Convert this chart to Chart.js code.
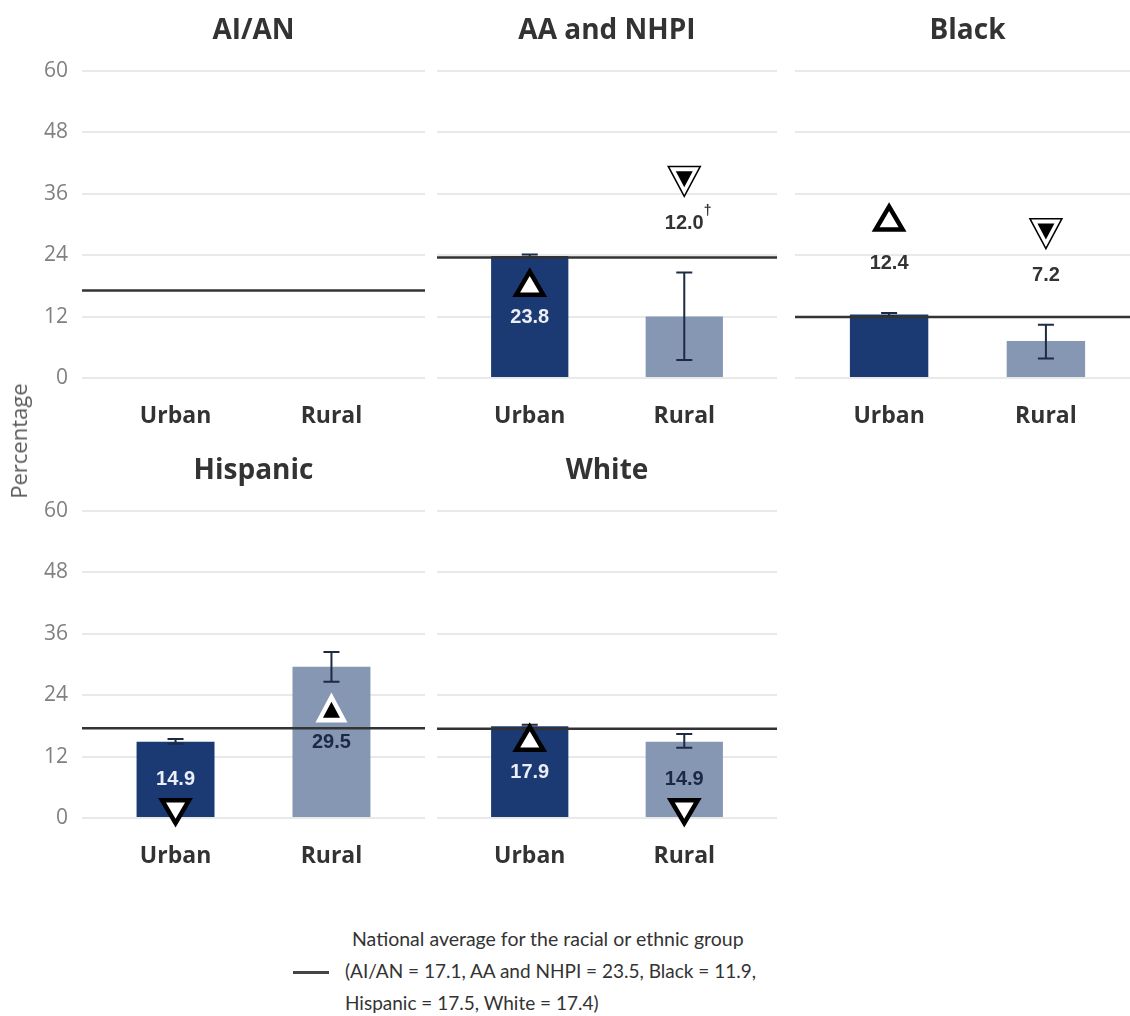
<!DOCTYPE html>
<html>
<head>
<meta charset="utf-8">
<script src="https://cdn.jsdelivr.net/npm/chart.js@4.4.1/dist/chart.umd.min.js"></script>
<style>
  html, body { margin: 0; padding: 0; background: #fff; }
  body { width: 1130px; height: 1016px; overflow: hidden; position: relative; }
  canvas { position: absolute; }
  #ytitle {
    position: absolute; left: 18px; top: 441px; width: 0; height: 0;
  }
  #ytitle span {
    position: absolute; transform: translate(-50%, -50%) rotate(-90deg);
    white-space: nowrap; font: 22px "Open Sans", sans-serif; color: #595959;
  }
  #legline { position: absolute; left: 293px; top: 971px; width: 36px; height: 3px; background: #444; }
  #legend {
    position: absolute; left: 345px; top: 923px;
    font: 19px Lato, sans-serif; line-height: 32px; color: #333; white-space: nowrap;
  }
</style>
</head>
<body>
<canvas id="p0" width="425" height="432" style="left:0;top:0"></canvas>
<canvas id="p1" width="340" height="432" style="left:437px;top:0"></canvas>
<canvas id="p2" width="345" height="432" style="left:795px;top:0"></canvas>
<canvas id="p3" width="425" height="432" style="left:0;top:440px"></canvas>
<canvas id="p4" width="340" height="432" style="left:437px;top:440px"></canvas>
<div id="ytitle"><span>Percentage</span></div>
<div id="legline"></div>
<div id="legend">
  <div style="margin-left:7px;font-size:19.5px">National average for the racial or ethnic group</div>
  <div>(AI/AN = 17.1, AA and NHPI = 23.5, Black = 11.9,</div>
  <div>Hispanic = 17.5, White = 17.4)</div>
</div>
<script>
// data
const groups = ['AI/AN', 'AA and NHPI', 'Black', 'Hispanic', 'White'];
const areas = ['Urban', 'Rural'];
const nationalAvg = [17.1, 23.5, 11.9, 17.5, 17.4];

const urbanPct  = [null, 23.8, 12.4, 14.9, 17.9];
const urbanLow  = [null, 23.5, 12.1, 14.5, 17.6];
const urbanHigh = [null, 24.1, 12.7, 15.4, 18.2];

const ruralPct  = [null, 12.0, 7.2, 29.5, 14.9];
const ruralLow  = [null, 3.5, 3.8, 26.6, 13.7];
const ruralHigh = [null, 20.6, 10.4, 32.4, 16.4];

// compared with national average: 'up' higher, 'down' lower; solid = filled marker
const urbanMark = [null, 'up', 'up', 'down', 'up'];
const ruralMark = [null, 'down-solid', 'down-solid', 'up-solid', 'down'];
const ruralNote = ['', '\u2020', '', '', ''];
const urbanNote = ['', '', '', '', ''];

const yTicks = [0, 12, 24, 36, 48, 60];

const urbanColor = '#1b3a73';
const ruralColor = '#8597b3';

function tri(ctx, cx, cy, w, h, up) {
  // centred on the centroid
  ctx.beginPath();
  if (up) {
    ctx.moveTo(cx, cy - 2 * h / 3);
    ctx.lineTo(cx + w / 2, cy + h / 3);
    ctx.lineTo(cx - w / 2, cy + h / 3);
  } else {
    ctx.moveTo(cx, cy + 2 * h / 3);
    ctx.lineTo(cx + w / 2, cy - h / 3);
    ctx.lineTo(cx - w / 2, cy - h / 3);
  }
  ctx.closePath();
}

function drawMark(ctx, cx, cy, kind, inBar) {
  const up = kind.startsWith('up');
  ctx.lineJoin = 'miter';
  if (kind.endsWith('solid')) {
    tri(ctx, cx, cy, 32, 30, up);
    ctx.fillStyle = '#fff';
    ctx.fill();
    if (!inBar) { ctx.strokeStyle = '#000'; ctx.lineWidth = 1.5; ctx.stroke(); }
    tri(ctx, cx, cy, 17, 16, up);
    ctx.fillStyle = '#000';
    ctx.fill();
  } else {
    tri(ctx, cx, cy, 27, 23, up);
    ctx.fillStyle = '#fff';
    ctx.fill();
    ctx.strokeStyle = '#000'; ctx.lineWidth = 4.5;
    ctx.stroke();
  }
}

const overlay = {
  id: 'overlay',
  afterDatasetsDraw(chart, args, opts) {
    const g = opts.group;
    const { ctx, chartArea } = chart;
    const x = chart.scales.x, y = chart.scales.y;
    const pct = [urbanPct[g], ruralPct[g]];
    const lo = [urbanLow[g], ruralLow[g]];
    const hi = [urbanHigh[g], ruralHigh[g]];
    const marks = [urbanMark[g], ruralMark[g]];
    const notes = [urbanNote[g], ruralNote[g]];
    ctx.save();

    // error bars
    ctx.strokeStyle = '#1c2a44';
    ctx.lineWidth = 2;
    pct.forEach((v, i) => {
      if (v == null) return;
      const px = x.getPixelForValue(i + 1);
      const y1 = y.getPixelForValue(lo[i]), y2 = y.getPixelForValue(hi[i]);
      ctx.beginPath();
      ctx.moveTo(px, y1); ctx.lineTo(px, y2);
      ctx.moveTo(px - 8, y1); ctx.lineTo(px + 8, y1);
      ctx.moveTo(px - 8, y2); ctx.lineTo(px + 8, y2);
      ctx.stroke();
    });

    // national average
    const ay = y.getPixelForValue(nationalAvg[g]);
    ctx.strokeStyle = '#333';
    ctx.lineWidth = 2.5;
    ctx.beginPath();
    ctx.moveTo(chartArea.left, ay);
    ctx.lineTo(chartArea.right, ay);
    ctx.stroke();

    // markers and value labels
    pct.forEach((v, i) => {
      if (v == null) return;
      const px = x.getPixelForValue(i + 1);
      const barH = y.getPixelForValue(0) - y.getPixelForValue(v);
      const inBar = barH > 70;
      const up = marks[i].startsWith('up');
      let ly, my, col;
      if (inBar) {
        ly = y.getPixelForValue(v / 2);
        my = up ? ly - 30 : ly + 28;
        col = i === 0 ? '#e9eef7' : '#1b2a44';
      } else {
        ly = y.getPixelForValue(hi[i]) - 49;
        my = up ? ly - 42 : ly - 47;
        col = '#333';
      }
      drawMark(ctx, px, my, marks[i], inBar);
      ctx.font = 'bold 20px "Liberation Sans", Arial, sans-serif';
      ctx.fillStyle = col;
      ctx.textAlign = 'center';
      ctx.textBaseline = 'middle';
      const txt = v.toFixed(1);
      ctx.fillText(txt, px, ly);
      if (notes[i]) {
        const w = ctx.measureText(txt).width;
        ctx.font = 'bold 14px "Liberation Sans", Arial, sans-serif';
        ctx.textAlign = 'left';
        ctx.fillText(notes[i], px + w / 2, ly - 12);
      }
    });
    ctx.restore();
  }
};

function panel(id, g, showY) {
  new Chart(document.getElementById(id), {
    type: 'bar',
    data: {
      datasets: [{
        data: areas.map((a, i) => ({ x: i + 1, y: i === 0 ? urbanPct[g] : ruralPct[g] })),
        backgroundColor: [urbanColor, ruralColor],
        barPercentage: 0.5,
        categoryPercentage: 1
      }]
    },
    options: {
      responsive: false,
      animation: false,
      layout: { padding: 0 },
      plugins: {
        legend: { display: false },
        tooltip: { enabled: false },
        title: {
          display: true,
          text: groups[g],
          fullSize: false,
          color: '#333',
          font: { family: 'Open Sans', weight: 'bold', size: 28 },
          padding: { top: 14, bottom: 23 }
        },
        overlay: { group: g }
      },
      scales: {
        x: {
          type: 'linear',
          min: 0.4,
          max: 2.6,
          offset: false,
          bounds: 'data',
          grid: { display: false, drawTicks: false, offset: false },
          border: { display: false },
          afterBuildTicks: s => { s.ticks = areas.map((a, i) => ({ value: i + 1 })); },
          ticks: {
            callback: v => areas[v - 1],
            color: '#333',
            font: { family: 'Open Sans', weight: 'bold', size: 23 },
            padding: 25,
            maxRotation: 0,
            autoSkip: false
          },
          afterFit: s => { s.height = 54; }
        },
        y: {
          min: 0,
          max: 60,
          afterBuildTicks: s => { s.ticks = yTicks.map(v => ({ value: v })); },
          grid: { color: '#e9e9e9', lineWidth: 2, drawTicks: false },
          border: { display: false },
          ticks: {
            display: showY,
            color: '#808080',
            font: { family: 'Open Sans', size: 21 },
            padding: 14
          },
          afterFit: s => { s.width = showY ? 82 : 0; }
        }
      }
    },
    plugins: [overlay]
  });
}

panel('p0', 0, true);
panel('p1', 1, false);
panel('p2', 2, false);
panel('p3', 3, true);
panel('p4', 4, false);
</script>
</body>
</html>
